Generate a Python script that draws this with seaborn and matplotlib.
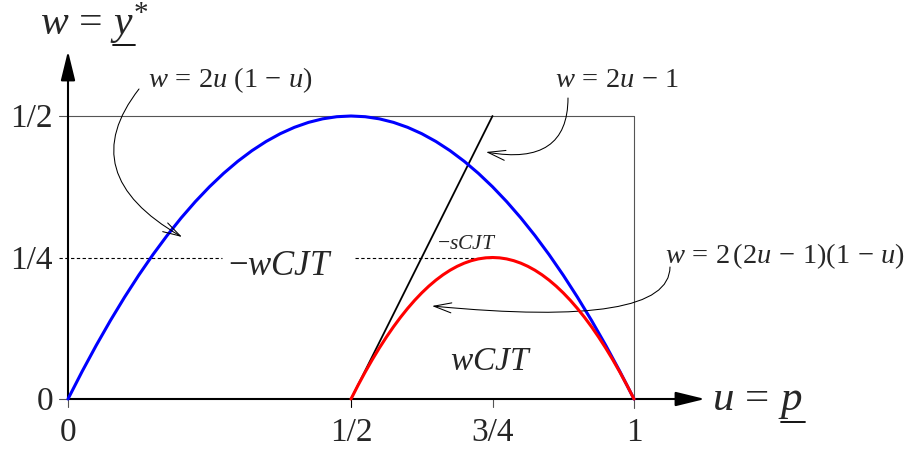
import matplotlib
matplotlib.use("Agg")
import matplotlib.pyplot as plt
import seaborn as sns

# values
# blue curve  w = 2u(1-u)
u_upper = [0.0, 0.025, 0.05, 0.075, 0.1, 0.125, 0.15, 0.175, 0.2, 0.225,
           0.25, 0.275, 0.3, 0.325, 0.35, 0.375, 0.4, 0.425, 0.45, 0.475,
           0.5, 0.525, 0.55, 0.575, 0.6, 0.625, 0.65, 0.675, 0.7, 0.725,
           0.75, 0.775, 0.8, 0.825, 0.85, 0.875, 0.9, 0.925, 0.95, 0.975, 1.0]
w_upper = [0.0, 0.04875, 0.095, 0.13875, 0.18, 0.21875, 0.255, 0.28875, 0.32, 0.34875,
           0.375, 0.39875, 0.42, 0.43875, 0.455, 0.46875, 0.48, 0.48875, 0.495, 0.49875,
           0.5, 0.49875, 0.495, 0.48875, 0.48, 0.46875, 0.455, 0.43875, 0.42, 0.39875,
           0.375, 0.34875, 0.32, 0.28875, 0.255, 0.21875, 0.18, 0.13875, 0.095, 0.04875, 0.0]
# red curve  w = 2(2u-1)(1-u)
u_lower = [0.5, 0.5125, 0.525, 0.5375, 0.55, 0.5625, 0.575, 0.5875, 0.6, 0.6125,
           0.625, 0.6375, 0.65, 0.6625, 0.675, 0.6875, 0.7, 0.7125, 0.725, 0.7375,
           0.75, 0.7625, 0.775, 0.7875, 0.8, 0.8125, 0.825, 0.8375, 0.85, 0.8625,
           0.875, 0.8875, 0.9, 0.9125, 0.925, 0.9375, 0.95, 0.9625, 0.975, 0.9875, 1.0]
w_lower = [0.0, 0.024375, 0.0475, 0.069375, 0.09, 0.109375, 0.1275, 0.144375, 0.16, 0.174375,
           0.1875, 0.199375, 0.21, 0.219375, 0.2275, 0.234375, 0.24, 0.244375, 0.2475, 0.249375,
           0.25, 0.249375, 0.2475, 0.244375, 0.24, 0.234375, 0.2275, 0.219375, 0.21, 0.199375,
           0.1875, 0.174375, 0.16, 0.144375, 0.1275, 0.109375, 0.09, 0.069375, 0.0475, 0.024375, 0.0]
# black line  w = 2u-1
u_chord = [0.5, 0.75]
w_chord = [0.0, 0.5]

x_ticks = [0, 0.5, 0.75, 1]
x_tick_labels = ["0", "1/2", "3/4", "1"]
y_ticks = [0, 0.25, 0.5]
y_tick_labels = ["0", "1/4", "1/2"]

sns.set_theme(style="white")
plt.rcParams.update({
    "font.family": ["Liberation Serif", "DejaVu Serif"],
    "mathtext.fontset": "custom",
    "mathtext.rm": "Liberation Serif",
    "mathtext.it": "Liberation Serif:italic",
    "mathtext.bf": "Liberation Serif:bold",
})

S = 566.0          # pixels per unit, same on both axes
X0, Y0 = 68, 400   # pixel position of the origin
GRAY = "#555555"


def px(x, y):
    """Pixel position in the 913x452 picture -> data coords."""
    return (x - X0) / S, (Y0 - y) / S


fig = plt.figure(figsize=(9.13, 4.52), dpi=100)
ax = fig.add_axes([0, 0, 1, 1])
ax.set_xlim(-X0 / S, (913 - X0) / S)
ax.set_ylim((Y0 - 452) / S, Y0 / S)
ax.axis("off")

# frame of the unit box and small ticks
ax.plot([px(59, 0)[0], 1], [0.5, 0.5], color=GRAY, lw=0.8, zorder=1)
ax.plot([1, 1], [0.5, px(0, 409)[1]], color=GRAY, lw=0.8, zorder=1)
ax.plot([px(59, 0)[0], 0], [0, 0], color=GRAY, lw=0.8, zorder=1)
for x in x_ticks[:-1]:
    ax.plot([x, x], [0, px(0, 408)[1]], color="black" if x == 0.5 else GRAY,
            lw=0.8, zorder=1)

# dashed level w = 1/4, broken by the -wCJT label
ax.plot([px(59, 0)[0], px(222, 0)[0]], [0.25, 0.25], color="black", lw=0.8,
        ls=(0, (3, 2.2)), zorder=1)
ax.plot([px(355, 0)[0], 0.75], [0.25, 0.25], color="black", lw=0.8,
        ls=(0, (3, 2.2)), zorder=1)

# axes with arrow heads
axis_arrow = dict(arrowstyle="-|>,head_length=0.9,head_width=0.22",
                  mutation_scale=20, lw=1.5, color="black",
                  shrinkA=0, shrinkB=0)
ax.annotate("", xy=(px(705, 0)[0], 0), xytext=(0, 0), arrowprops=axis_arrow)
ax.annotate("", xy=(0, px(0, 52)[1]), xytext=(0, 0), arrowprops=axis_arrow)

# curves
sns.lineplot(x=u_chord, y=w_chord, ax=ax, color="black", lw=1.3, zorder=2)
sns.lineplot(x=u_upper, y=w_upper, ax=ax, color="#0000ff", lw=2.2, zorder=3)
sns.lineplot(x=u_lower, y=w_lower, ax=ax, color="#ff0000", lw=2.2, zorder=4)

# tick labels
for x, lab in zip(x_ticks, x_tick_labels):
    ax.text(x, px(0, 433)[1], lab, ha="center", va="center", fontsize=24)
for y, lab in zip(y_ticks, y_tick_labels):
    ax.text(px(53, 0)[0], y - 2 / S, lab, ha="right", va="center", fontsize=24)

# axis names (underlines drawn by hand)
ax.text(*px(40, 35), r"$w\,=\,y^{*}$", ha="left", va="baseline", fontsize=30)
ax.plot([px(113, 0)[0], px(135, 0)[0]], [px(0, 46)[1]] * 2, color="black", lw=1.3)
ax.text(*px(712, 410), r"$u\,=\,p$", ha="left", va="baseline", fontsize=31)
ax.plot([px(781, 0)[0], px(805, 0)[0]], [px(0, 423)[1]] * 2, color="black", lw=1.3)

# region labels
ax.text(*px(228, 275), r"$-wCJT$", ha="left", va="baseline", fontsize=25)
ax.text(*px(450, 370), r"$wCJT$", ha="left", va="baseline", fontsize=24)
ax.text(*px(437, 249), r"$-sCJT$", ha="left", va="baseline", fontsize=15.5)

# formula labels with curved pointers
ax.text(*px(148, 87), r"$w\,=\,2u\ (1\,-\,u)$", ha="left", va="baseline",
        fontsize=20.5)
ax.text(*px(555, 87), r"$w\,=\,2u\,-\,1$", ha="left", va="baseline", fontsize=20.5)
ax.text(*px(665, 263), r"$w\,=\,2\,(2u\,-\,1)(1\,-\,u)$", ha="left",
        va="baseline", fontsize=20.5)

pointer = dict(arrowstyle="->,head_length=1.05,head_width=0.3", lw=0.75,
               color="black", shrinkA=0, shrinkB=0)
ax.annotate("", xy=px(182, 238), xytext=px(139, 90),
            arrowprops=dict(pointer, connectionstyle="angle3,angleA=52,angleB=-30"))
ax.annotate("", xy=px(486, 153), xytext=px(568, 99),
            arrowprops=dict(pointer, connectionstyle="angle3,angleA=90,angleB=-10"))
ax.annotate("", xy=px(432, 307), xytext=px(670, 268),
            arrowprops=dict(pointer, connectionstyle="angle3,angleA=90,angleB=-5.5"))

fig.savefig("out.png", dpi=100, facecolor="white")
